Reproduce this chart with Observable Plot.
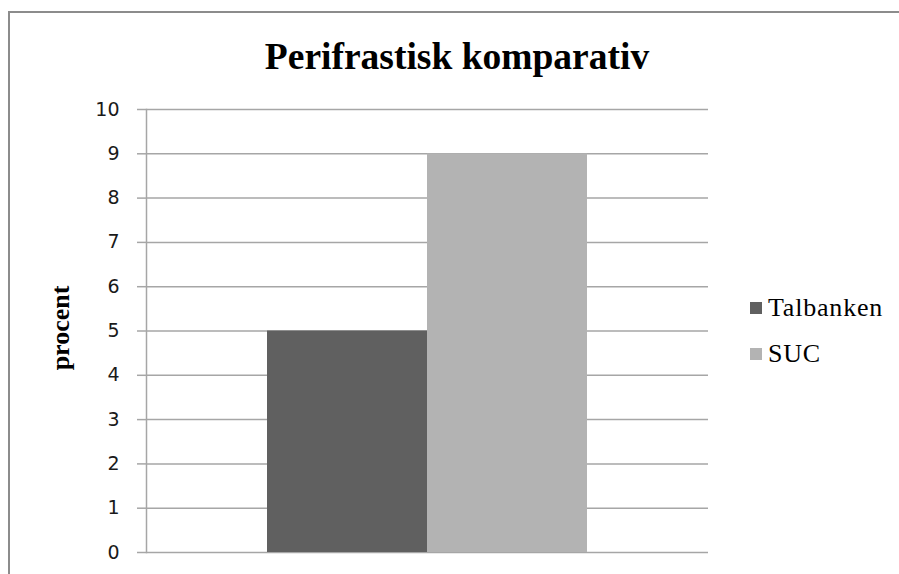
<!DOCTYPE html>
<html>
<head>
<meta charset="utf-8">
<script src="https://cdn.jsdelivr.net/npm/d3@7"></script>
<script src="https://cdn.jsdelivr.net/npm/@observablehq/plot@0.6"></script>
<style>
  html, body { margin: 0; padding: 0; background: #fff; overflow: hidden; }
  #chart { position: relative; width: 899px; height: 574px; overflow: hidden; }
  #chart svg { position: absolute; left: 0; top: 0; }
</style>
</head>
<body>
<div id="chart"></div>
<script>
const title = "Perifrastisk komparativ";
const yLabel = "procent";
const categories = ["Talbanken", "SUC"];
const values = [5, 9];
const colors = ["#606060", "#b3b3b3"];
const yTicks = [0, 1, 2, 3, 4, 5, 6, 7, 8, 9, 10];

const data = categories.map((c, i) => ({name: c, value: values[i]}));

const chart = Plot.plot({
  width: 899,
  height: 574,
  marginTop: 109,
  marginBottom: 22,
  marginLeft: 146,
  marginRight: 191,
  style: {background: "transparent", color: "#222"},
  x: {domain: categories, paddingInner: 0, paddingOuter: 0.75, axis: null},
  y: {domain: [0, 10], axis: null},
  color: {domain: categories, range: colors},
  marks: [
    Plot.gridY(yTicks, {stroke: "#a6a6a6", strokeOpacity: 1, strokeWidth: 1.5}),
    Plot.barY(data, {x: "name", y: "value", fill: "name"}),
    Plot.frame({anchor: "left", stroke: "#a6a6a6", strokeWidth: 1.5}),
    Plot.axisY({ticks: yTicks, tickSize: 9, tickPadding: 18, stroke: "#a6a6a6",
      strokeWidth: 1.5, fill: "#1a1a1a", label: null, tickFormat: d => String(d),
      fontFamily: "DejaVu Sans", fontSize: 19})
  ]
});

document.getElementById("chart").appendChild(chart);
const svg = d3.select(chart);

svg.append("path")
  .attr("d", "M9,574V12H899")
  .attr("fill", "none")
  .attr("stroke", "#8c8c8c")
  .attr("stroke-width", 2);

svg.append("text")
  .attr("x", 457).attr("y", 69)
  .attr("text-anchor", "middle")
  .style("font-family", "'Liberation Serif', serif")
  .style("font-weight", "bold")
  .style("font-size", "37.5px")
  .attr("fill", "#000")
  .text(title);

svg.append("text")
  .attr("transform", "translate(69,328) rotate(-90)")
  .attr("text-anchor", "middle")
  .style("font-family", "'Liberation Serif', serif")
  .style("font-weight", "bold")
  .style("font-size", "26px")
  .attr("fill", "#000")
  .text(yLabel);

const leg = svg.append("g");
categories.forEach((c, i) => {
  const y0 = 302 + i * 46;
  leg.append("rect").attr("x", 750).attr("y", y0).attr("width", 12).attr("height", 12)
    .attr("fill", colors[i]);
  leg.append("text").attr("x", 768).attr("y", y0 + 14)
    .attr("text-anchor", "start")
    .style("font-family", "'Liberation Serif', serif")
    .style("font-size", "26px")
    .style("letter-spacing", "0.8px")
    .attr("fill", "#000")
    .text(c);
});
</script>
</body>
</html>
